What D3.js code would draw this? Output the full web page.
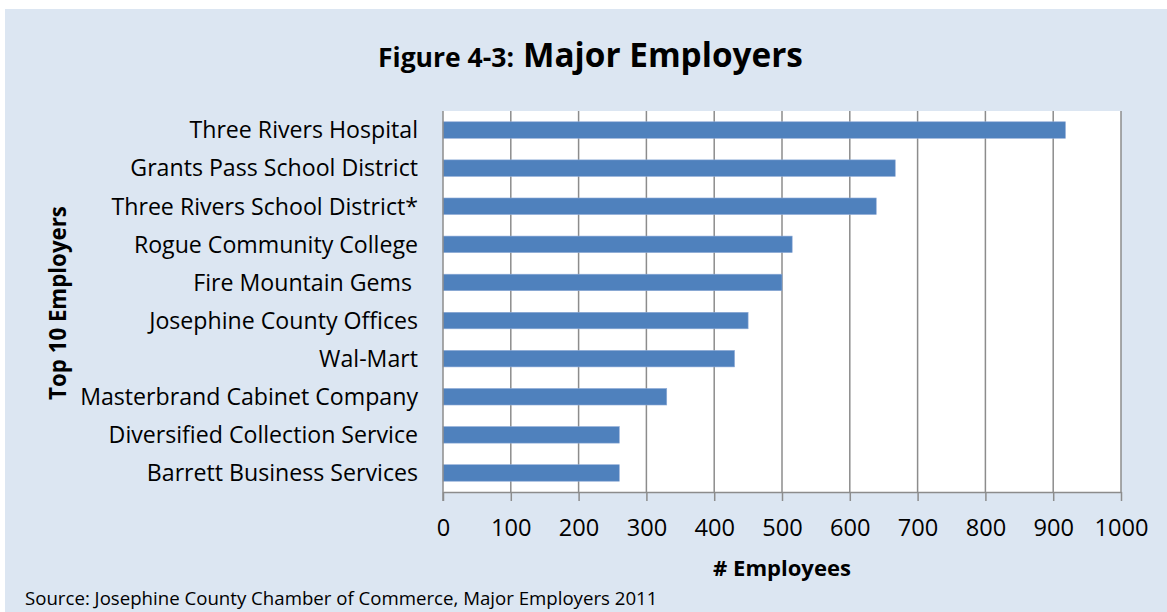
<!DOCTYPE html>
<html><head><meta charset="utf-8">
<script src="https://cdn.jsdelivr.net/npm/d3@7"></script>
<style>
body{margin:0;background:#fff;}
svg{display:block;}
text{font-family:"Open Sans",sans-serif;fill:#000;}
</style></head><body>
<svg id="c" width="1167" height="612"></svg>
<script>
const categories = ["Three Rivers Hospital","Grants Pass School District","Three Rivers School District*","Rogue Community College","Fire Mountain Gems ","Josephine County Offices","Wal-Mart","Masterbrand Cabinet Company","Diversified Collection Service","Barrett Business Services"];
const employees = [918, 667, 639, 515, 500, 450, 430, 330, 260, 260];
const xTicks = [0,100,200,300,400,500,600,700,800,900,1000];

const svg = d3.select("#c");
svg.append("rect").attr("x",5).attr("y",9).attr("width",1162).attr("height",603).attr("fill","#dce6f2");

const L=443, R=1121, T=111, B=492;
const x = d3.scaleLinear().domain([0,1000]).range([L,R]);
const y = d3.scaleBand().domain(categories).range([T,B]).paddingInner(0.567).paddingOuter(0.283);

function fit(sel, target){
  const base = parseFloat(sel.attr("font-size"));
  const w = sel.node().getComputedTextLength();
  sel.attr("font-size", base*target/w);
  return base*target/w;
}

svg.append("rect").attr("x",L).attr("y",T).attr("width",R-L).attr("height",B-T).attr("fill","#fff");

svg.append("g").selectAll("line").data(xTicks.slice(1)).join("line")
  .attr("x1",d=>x(d)).attr("x2",d=>x(d)).attr("y1",T).attr("y2",B)
  .attr("stroke","#8c8c8c").attr("stroke-width",1.5);

svg.append("g").selectAll("rect").data(categories).join("rect")
  .attr("x",x(0)).attr("y",d=>y(d)).attr("height",y.bandwidth())
  .attr("width",(d,i)=>x(employees[i])-x(0))
  .attr("fill","#4f81bd").attr("stroke","#8eaad6").attr("stroke-width",0.6);

const xa = svg.append("g").attr("transform",`translate(0,${B})`)
  .call(d3.axisBottom(x).tickValues(xTicks).tickFormat(d3.format("d")).tickSize(9).tickPadding(18).tickSizeOuter(0));
xa.select(".domain").attr("stroke","#8c8c8c").attr("stroke-width",1.5);
xa.selectAll(".tick line").attr("stroke","#8c8c8c").attr("stroke-width",1.5);
const tt = xa.selectAll(".tick text").attr("font-size",20).attr("font-family","'Open Sans',sans-serif").attr("fill","#000");
const tfs = fit(tt.filter(d=>d===1000), 54);
tt.attr("font-size", tfs);

svg.append("line").attr("x1",L).attr("x2",L).attr("y1",T).attr("y2",B+9).attr("stroke","#8c8c8c").attr("stroke-width",1.5);

const yl = svg.append("g").selectAll("text").data(categories).join("text")
  .attr("x",418).attr("y",d=>y(d)+y.bandwidth()/2).attr("dy","0.36em")
  .attr("text-anchor","end").attr("font-size",20).style("white-space","pre").text(d=>d);
const lfs = fit(yl.filter(d=>d==="Masterbrand Cabinet Company"), 338);
yl.attr("font-size", lfs);

const t1 = svg.append("text").attr("x",514).attr("y",67).attr("text-anchor","end").attr("font-weight","bold").attr("font-size",20).text("Figure 4-3:");
fit(t1, 136);
const t2 = svg.append("text").attr("x",523).attr("y",67).attr("text-anchor","start").attr("font-weight","bold").attr("font-size",32).text("Major Employers");
fit(t2, 280);

const xt = svg.append("text").attr("x",782).attr("y",576).attr("text-anchor","middle").attr("font-weight","bold").attr("font-size",20).text("# Employees");
fit(xt, 138);
const ytl = svg.append("text").attr("transform","translate(66,303) rotate(-90)").attr("text-anchor","middle").attr("font-weight","bold").attr("font-size",20).text("Top 10 Employers");
fit(ytl, 194);

const src = svg.append("text").attr("x",25).attr("y",605).attr("font-size",16.5).text("Source: Josephine County Chamber of Commerce, Major Employers 2011");
fit(src, 633);
</script>
</body></html>
